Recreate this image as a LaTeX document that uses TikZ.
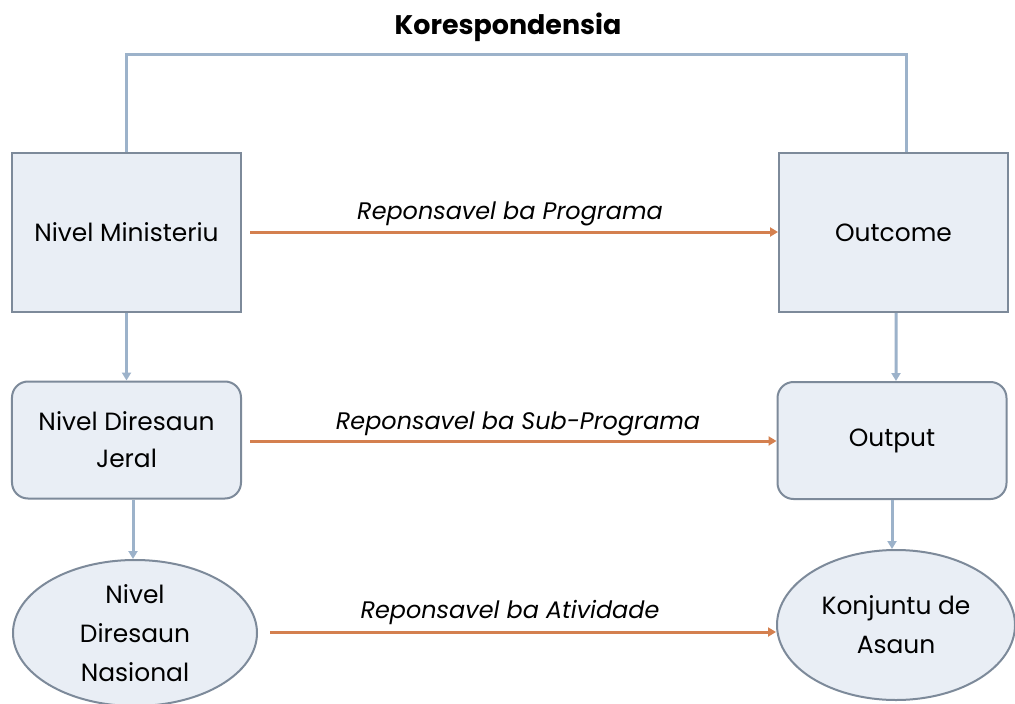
\documentclass[tikz,border=0pt]{standalone}
\usepackage{fontspec}
\setmainfont{Poppins}
\usetikzlibrary{shapes.geometric,arrows.meta}
\definecolor{boxfill}{HTML}{E9EEF5}
\definecolor{boxline}{HTML}{7D8A9A}
\definecolor{conn}{HTML}{9CB2CA}
\definecolor{orangearr}{HTML}{D4804F}
\tikzset{
  sqbox/.style={draw=boxline, line width=2bp, fill=boxfill, minimum width=229bp, minimum height=159bp, inner sep=0pt, align=center, font=\fontsize{25}{37}\selectfont},
  rbox/.style={sqbox, rounded corners=16bp, minimum height=117bp},
  ebox/.style={draw=boxline, line width=2bp, fill=boxfill, ellipse, inner sep=0pt, align=center, font=\fontsize{25}{39}\selectfont},
  vconn/.style={draw=conn, line width=3bp, -{Triangle[length=8bp,width=9bp]}},
  hconn/.style={draw=orangearr, line width=3bp, -{Triangle[length=8bp,width=9bp]}},
  lbl/.style={font=\fontsize{24}{28}\selectfont\itshape, inner sep=0pt},
}
\begin{document}
\begin{tikzpicture}[x=1bp,y=-1bp]
\useasboundingbox[fill=white] (0,0) rectangle (1015,704);
\node[font=\fontsize{27}{32}\selectfont\bfseries] (title) at (508,27) {Korespondensia};
\node[sqbox] (min) at (126.5,232.5) {Nivel Ministeriu};
\node[sqbox] (outc) at (893.5,232.5) {Outcome};
\node[rbox] (dg) at (126.5,440) {Nivel Diresaun\\Jeral};
\node[rbox] (outp) at (892,440.5) {Output};
\node[ebox, minimum width=244bp, minimum height=146bp] (dn) at (135,633) {Nivel\\Diresaun\\Nasional};
\node[ebox, minimum width=238bp, minimum height=150bp] (ka) at (896,625) {Konjuntu de\\Asaun};
\coordinate (tl) at (126,55);
\coordinate (tr) at (906,55);
\draw[draw=conn, line width=3bp] (min.north -| tl) -- (tl) -- (tr) -- (outc.north -| tr);
\draw[vconn] ([xshift=6.5bp]dg.south) -- ([xshift=6.5bp]dn.north -| dg.south);
\draw[vconn] (min.south) -- (dg.north);
\draw[vconn] ([xshift=2.5bp]outc.south) -- ([xshift=4bp]outp.north);
\draw[vconn] (outp.south) -- (outp.south |- ka.north);
\coordinate (a1) at (250,232);
\coordinate (a2) at (250,441);
\coordinate (a3) at (270,632);
\draw[hconn] (a1) -- (a1 -| outc.west);
\draw[hconn] (a2) -- (a2 -| outp.west);
\draw[hconn] (a3) -- (ka.west |- a3);
\node[lbl] (l1) at (510,214) {Reponsavel ba Programa};
\node[lbl] (l2) at (518,424) {Reponsavel ba Sub-Programa};
\node[lbl] (l3) at (510,613) {Reponsavel ba Atividade};
\end{tikzpicture}
\end{document}
